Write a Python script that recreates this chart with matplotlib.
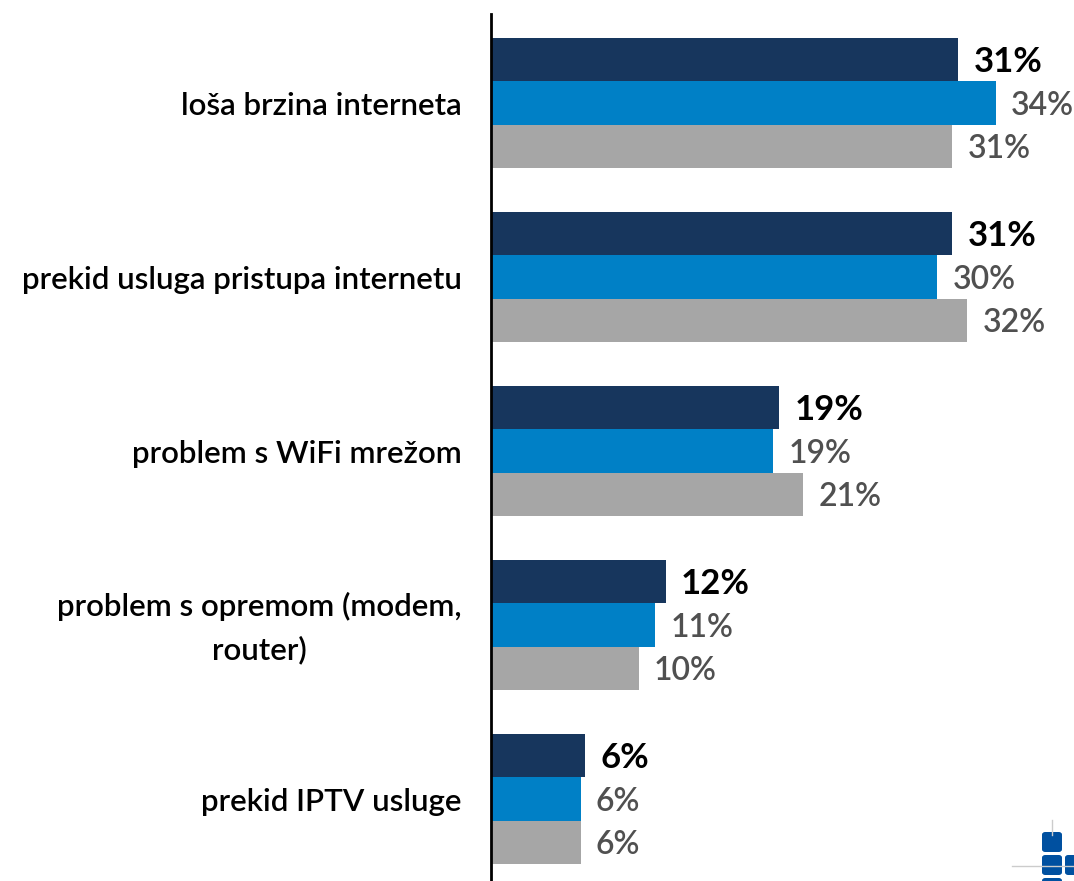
import matplotlib.pyplot as plt
from matplotlib.patches import FancyBboxPatch
import numpy as np

categories = ["loša brzina interneta", "prekid usluga pristupa internetu",
              "problem s WiFi mrežom", "problem s opremom (modem,\nrouter)",
              "prekid IPTV usluge"]
serija1 = [31.3, 30.9, 19.3, 11.7, 6.3]
serija2 = [33.8, 29.9, 18.9, 11.0, 6.0]
serija3 = [30.9, 31.9, 20.9, 9.9, 6.0]
oznake1 = ["31%", "31%", "19%", "12%", "6%"]
oznake2 = ["34%", "30%", "19%", "11%", "6%"]
oznake3 = ["31%", "32%", "21%", "10%", "6%"]

boje = ["#17365d", "#0080c6", "#a6a6a6"]
plt.rcParams['font.family'] = ['Lato', 'DejaVu Sans']

fig = plt.figure(figsize=(10.74, 8.81), dpi=100)
ax = fig.add_axes([491/1074, 0, 1 - 491/1074, 1 - 14/881])

y = np.arange(len(categories))
h = 0.25
serije = [serija1, serija2, serija3]
oznake = [oznake1, oznake2, oznake3]
for k in range(3):
    pos = y + (k - 1) * h
    ax.barh(pos, serije[k], height=h, color=boje[k], edgecolor="none")
    for p, v, t in zip(pos, serije[k], oznake[k]):
        if k == 0:
            ax.annotate(t, (v, p), xytext=(11, -2), textcoords="offset points",
                        va="center", ha="left", fontsize=25, fontweight="bold", color="black")
        else:
            ax.annotate(t, (v, p), xytext=(11, -2), textcoords="offset points",
                        va="center", ha="left", fontsize=23, fontweight="semibold",
                        color="#505050")

ax.set_xlim(0, 583/14.93)
ax.set_ylim(4.471, -0.511)
ax.set_xticks([])
ax.set_yticks([])
for s in ["top", "right", "bottom"]:
    ax.spines[s].set_visible(False)
ax.spines["left"].set_linewidth(2)
ax.spines["left"].set_color("black")

for i, c in enumerate(categories):
    ax.annotate(c, (0, i), xytext=(-21, -2), textcoords="offset points",
                ha="right", va="center", multialignment="center",
                fontsize=22.5, fontweight="semibold", color="black", linespacing=1.62)

# logo dolje desno
fig.add_artist(plt.Line2D([1012/1074, 1074/1074], [1 - 866/881, 1 - 866/881], color="#cccccc", lw=1))
fig.add_artist(plt.Line2D([1052/1074, 1052/1074], [1 - 820/881, 1 - 835/881], color="#cccccc", lw=1))
for (x0, y0) in [(1042, 832), (1042, 855), (1065, 855), (1042, 878)]:
    fig.add_artist(FancyBboxPatch((x0/1074, 1 - (y0 + 20)/881), 20/1074, 20/881,
                                  boxstyle="round,pad=0,rounding_size=0.003",
                                  facecolor="#0050a0", edgecolor="none",
                                  transform=fig.transFigure))

fig.savefig("out.png", dpi=100)
